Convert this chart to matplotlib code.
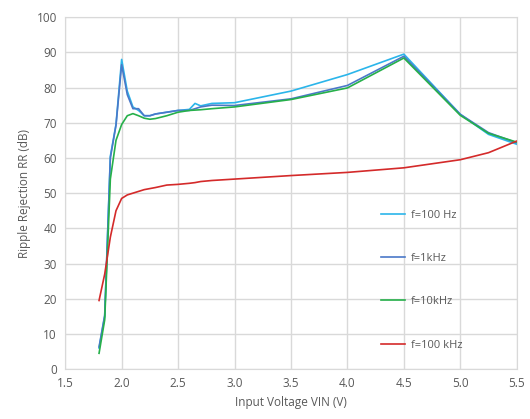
import numpy as np
import matplotlib.pyplot as plt

plt.rcParams['font.family'] = ['Open Sans', 'DejaVu Sans']

# input voltage (V)
vin = [1.8, 1.85, 1.9, 1.95, 2.0, 2.05, 2.1, 2.15, 2.2, 2.25, 2.3, 2.4,
       2.5, 2.6, 2.65, 2.7, 2.8, 3.0, 3.5, 4.0, 4.5, 5.0, 5.25, 5.5]

# ripple rejection (dB)
rr_100hz = [6.0, 15.0, 60.5, 69.5, 88.0, 79.0, 74.5, 73.5, 72.0, 72.0, 72.5, 73.0,
            73.5, 73.8, 75.5, 74.8, 75.5, 75.7, 79.0, 83.7, 89.5, 72.4, 66.7, 63.9]
rr_1khz = [6.3, 15.3, 60.0, 69.3, 86.5, 78.0, 74.0, 74.0, 72.0, 72.0, 72.5, 73.0,
           73.5, 73.5, 74.0, 74.5, 75.0, 74.9, 76.8, 80.6, 88.9, 72.4, 67.2, 64.3]
rr_10khz = [4.5, 14.0, 54.0, 65.0, 69.5, 72.0, 72.6, 72.0, 71.3, 71.0, 71.2, 72.0,
            73.0, 73.5, 73.6, 73.7, 74.0, 74.5, 76.6, 79.9, 88.4, 72.1, 67.0, 64.5]
rr_100khz = [19.5, 27.0, 37.5, 45.0, 48.5, 49.5, 50.0, 50.5, 51.0, 51.3, 51.6, 52.3,
             52.5, 52.8, 53.0, 53.3, 53.6, 54.0, 55.0, 55.9, 57.2, 59.5, 61.5, 64.8]

labels = ['f=100 Hz', 'f=1kHz', 'f=10kHz', 'f=100 kHz']
colors = ['#2bb5ea', '#4a78c8', '#26b04a', '#d42a2a']

fig = plt.figure(figsize=(5.3, 4.19), dpi=100)
ax = fig.add_axes([0.123, 0.119, 0.852, 0.840])

for rr, lab, c in zip([rr_100hz, rr_1khz, rr_10khz, rr_100khz], labels, colors):
    ax.plot(vin, rr, color=c, lw=1.2, label=lab)

ax.set_xlim(1.5, 5.5)
ax.set_ylim(0, 100)
ax.set_xticks(np.arange(1.5, 5.51, 0.5))
ax.set_xticklabels(['%.1f' % v for v in np.arange(1.5, 5.51, 0.5)])
ax.set_yticks(range(0, 101, 10))
ax.grid(True, color='#d9d9d9', lw=1)
ax.set_axisbelow(True)
for s in ax.spines.values():
    s.set_color('#d9d9d9')
ax.tick_params(length=0, colors='#595959', labelsize=8.5, pad=6)

ax.set_xlabel('Input Voltage VIN (V)', color='#595959', fontsize=8.5, labelpad=4)
ax.set_ylabel('Ripple Rejection RR (dB)', color='#595959', fontsize=8.5, labelpad=4)

leg = ax.legend(loc='upper left', bbox_to_anchor=(0.69, 0.465), frameon=False,
                fontsize=8, handlelength=2.1, handletextpad=0.6, labelspacing=2.9,
                borderaxespad=0)
for t in leg.get_texts():
    t.set_color('#595959')

fig.savefig('out.png', dpi=100)
